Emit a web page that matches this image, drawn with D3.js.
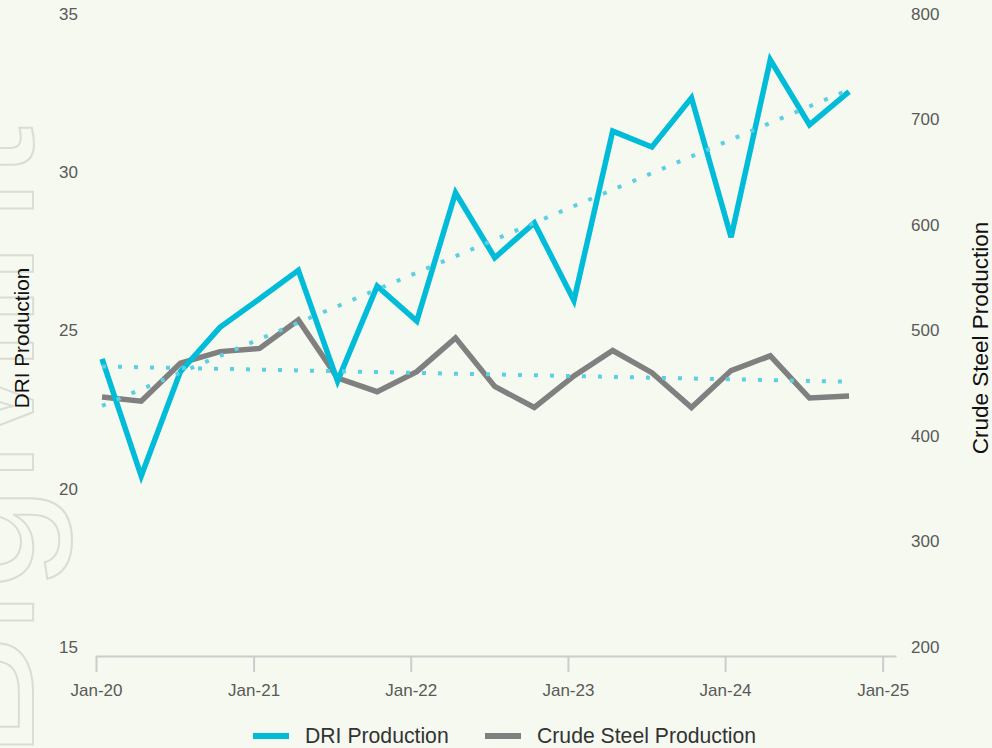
<!DOCTYPE html>
<html>
<head>
<meta charset="utf-8">
<script src="https://cdn.jsdelivr.net/npm/d3@7"></script>
<style>
  html, body { margin: 0; padding: 0; background: #f6f9f0; }
  svg { display: block; font-family: "Liberation Sans", Arial, sans-serif; }
</style>
</head>
<body>
<svg id="chart" width="992" height="748"></svg>
<script>
// quarterly points, Q1-2020 .. Q4-2024
var quarters = ["2020-01-15", "2020-04-15", "2020-07-15", "2020-10-15",
                "2021-01-15", "2021-04-15", "2021-07-15", "2021-10-15",
                "2022-01-15", "2022-04-15", "2022-07-15", "2022-10-15",
                "2023-01-15", "2023-04-15", "2023-07-15", "2023-10-15",
                "2024-01-15", "2024-04-15", "2024-07-15", "2024-10-15"];
var driProduction = [24.1, 20.4, 23.7, 25.1, 26.0, 26.9, 23.4, 26.4, 25.3, 29.35,
                     27.3, 28.4, 25.95, 31.3, 30.8, 32.35, 27.95, 33.55, 31.5, 32.55];
var steelProduction = [437, 433, 469, 480, 483, 510, 455, 442, 461, 493,
                       447, 427, 457, 481, 460, 427, 462, 476, 436, 438];
var leftTicks = [15, 20, 25, 30, 35];
var rightTicks = [200, 300, 400, 500, 600, 700, 800];
var xTicks = ["2020-01-01", "2021-01-01", "2022-01-01", "2023-01-01", "2024-01-01", "2025-01-01"];
var seriesNames = ["DRI Production", "Crude Steel Production"];

var cyan = "#00bcd9",
    grey = "#808080",
    trendColor = "#5ccfe2";

var parse = d3.timeParse("%Y-%m-%d");
var dates = quarters.map(parse);

var svg = d3.select("#chart");

// faint outlined watermark down the left edge (cut by the page edge, as in the source)
svg.append("text")
   .attr("transform", "translate(33,760) rotate(-90)")
   .attr("font-size", 190)
   .attr("fill", "none")
   .attr("stroke", "#dcdcd6")
   .attr("stroke-width", 2)
   .text("BigMint");

var x = d3.scaleTime()
          .domain([parse("2020-01-01"), parse("2025-02-01")])
          .range([96, 896]);
var yLeft = d3.scaleLinear().domain([15, 35]).range([647, 14]);
var yRight = d3.scaleLinear().domain([200, 800]).range([647, 14]);

// x axis
var xAxis = svg.append("g")
               .attr("transform", "translate(0,656)")
               .call(d3.axisBottom(x)
                       .tickValues(xTicks.map(parse))
                       .tickSize(16)
                       .tickSizeOuter(0)
                       .tickPadding(12)
                       .tickFormat(d3.timeFormat("%b-%y")));
xAxis.select(".domain").attr("stroke", "#cccccc").attr("stroke-width", 2);
xAxis.selectAll(".tick line").attr("stroke", "#cccccc").attr("stroke-width", 2);
xAxis.selectAll(".tick text")
     .attr("fill", "#595959")
     .attr("font-size", 17)
     .attr("font-family", "Liberation Sans, Arial, sans-serif");

// left axis labels
var leftAxis = svg.append("g")
                  .attr("transform", "translate(78,0)")
                  .call(d3.axisLeft(yLeft).tickValues(leftTicks).tickSize(0).tickPadding(0));
leftAxis.select(".domain").remove();
leftAxis.selectAll("text")
        .attr("fill", "#595959")
        .attr("font-size", 17)
        .attr("font-family", "Liberation Sans, Arial, sans-serif");

// right axis labels
var rightAxis = svg.append("g")
                   .attr("transform", "translate(911,0)")
                   .call(d3.axisRight(yRight).tickValues(rightTicks).tickSize(0).tickPadding(0));
rightAxis.select(".domain").remove();
rightAxis.selectAll("text")
         .attr("fill", "#595959")
         .attr("font-size", 17)
         .attr("font-family", "Liberation Sans, Arial, sans-serif");

// axis titles
svg.append("text")
   .attr("transform", "translate(29,338) rotate(-90)")
   .attr("text-anchor", "middle")
   .attr("font-size", 20.7)
   .attr("fill", "#111")
   .text(seriesNames[0]);
svg.append("text")
   .attr("transform", "translate(988,338) rotate(-90)")
   .attr("text-anchor", "middle")
   .attr("font-size", 22.5)
   .attr("fill", "#111")
   .text(seriesNames[1]);

// least squares trend on the point index
function trend(values) {
    var n = values.length,
        mx = d3.mean(values, function(v, i) { return i; }),
        my = d3.mean(values),
        sxy = d3.sum(values, function(v, i) { return (i - mx) * (v - my); }),
        sxx = d3.sum(values, function(v, i) { return (i - mx) * (i - mx); }),
        slope = sxy / sxx,
        b = my - slope * mx;
    return [0, n - 1].map(function(i) { return { i: i, v: b + slope * i }; });
}

var lineLeft = d3.line()
                 .x(function(d, i) { return x(dates[i]); })
                 .y(function(d) { return yLeft(d); });
var lineRight = d3.line()
                  .x(function(d, i) { return x(dates[i]); })
                  .y(function(d) { return yRight(d); });

svg.append("path")
   .attr("d", lineRight(steelProduction))
   .attr("fill", "none")
   .attr("stroke", grey)
   .attr("stroke-width", 5.5)
   .attr("stroke-linejoin", "miter");
svg.append("path")
   .attr("d", lineLeft(driProduction))
   .attr("fill", "none")
   .attr("stroke", cyan)
   .attr("stroke-width", 5.5)
   .attr("stroke-linejoin", "miter");

var trendLeft = d3.line()
                  .x(function(d) { return x(dates[d.i]); })
                  .y(function(d) { return yLeft(d.v); });
var trendRight = d3.line()
                   .x(function(d) { return x(dates[d.i]); })
                   .y(function(d) { return yRight(d.v); });

svg.append("path")
   .attr("d", trendLeft(trend(driProduction)))
   .attr("fill", "none")
   .attr("stroke", trendColor)
   .attr("stroke-width", 4)
   .attr("stroke-dasharray", "4 12");
svg.append("path")
   .attr("d", trendRight(trend(steelProduction)))
   .attr("fill", "none")
   .attr("stroke", trendColor)
   .attr("stroke-width", 4)
   .attr("stroke-dasharray", "4 12");

// legend
var legendItems = [
    { name: seriesNames[0], color: cyan, x: 253 },
    { name: seriesNames[1], color: grey, x: 485 }
];
var legend = svg.append("g").attr("class", "legend");
var item = legend.selectAll("g")
                 .data(legendItems)
                 .enter().append("g")
                 .attr("transform", function(d) { return "translate(" + d.x + ",736)"; });
item.append("line")
    .attr("x1", 0).attr("x2", 36)
    .attr("stroke", function(d) { return d.color; })
    .attr("stroke-width", 6);
item.append("text")
    .attr("x", 52)
    .attr("dy", "0.35em")
    .attr("font-size", 21.2)
    .attr("fill", "#333")
    .text(function(d) { return d.name; });
</script>
</body>
</html>
